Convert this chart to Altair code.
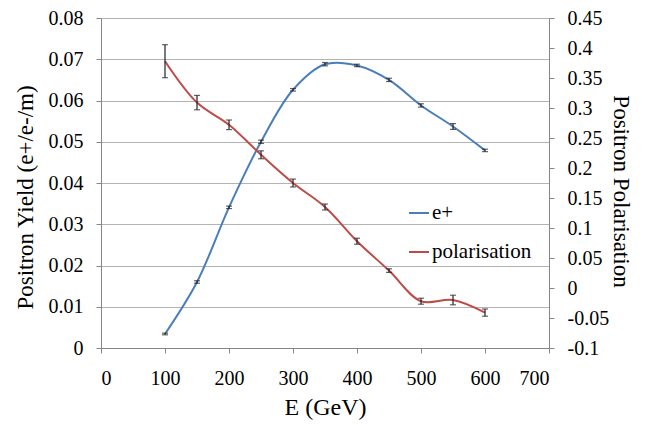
import altair as alt
import pandas as pd

# ---- data ----
energy = [100, 150, 200, 250, 300, 350, 400, 450, 500, 550, 600]
yield_e = [0.0034, 0.0160, 0.0341, 0.0500, 0.0626, 0.0688, 0.0685, 0.0650, 0.0588, 0.0537, 0.0479]
yield_err = [0.0002, 0.0003, 0.0003, 0.0004, 0.0003, 0.0004, 0.0003, 0.0004, 0.0004, 0.0007, 0.0003]
pol = [0.378, 0.309, 0.272, 0.222, 0.175, 0.135, 0.078, 0.029, -0.022, -0.020, -0.041]
pol_err = [0.0275, 0.012, 0.008, 0.0066, 0.0066, 0.005, 0.005, 0.003, 0.005, 0.008, 0.006]

series_names = ["e+", "polarisation"]
series_colors = ["#4a7ebb", "#be4b48"]
x_ticks = [0, 100, 200, 300, 400, 500, 600, 700]
left_ticks = [0, 0.01, 0.02, 0.03, 0.04, 0.05, 0.06, 0.07, 0.08]
right_ticks = [-0.1, -0.05, 0, 0.05, 0.1, 0.15, 0.2, 0.25, 0.3, 0.35, 0.4, 0.45]

df_e = pd.DataFrame({
    "E": energy,
    "v": yield_e,
    "lo": [v - e for v, e in zip(yield_e, yield_err)],
    "hi": [v + e for v, e in zip(yield_e, yield_err)],
    "series": series_names[0],
})
df_p = pd.DataFrame({
    "E": energy,
    "v": pol,
    "lo": [v - e for v, e in zip(pol, pol_err)],
    "hi": [v + e for v, e in zip(pol, pol_err)],
    "series": series_names[1],
})

FONT = "Liberation Serif"
AX = "#868686"
LEFT_TITLE = "Positron Yield (e+/e-/m)"
RIGHT_TITLE = "Positron Polarisation"
ERR = "#222222"

common_axis = dict(labelFont=FONT, titleFont=FONT, labelFontSize=20, titleFontSize=23,
                   titleFontWeight="normal", labelColor="black", titleColor="black",
                   domainColor=AX, tickColor=AX, tickSize=5, labelOverlap=False)

x_axis = alt.Axis(values=x_ticks, title="E (GeV)", grid=False,
                  labelPadding=15, titlePadding=7, **{**common_axis, "titleFontSize": 24})
x_scale = alt.Scale(domain=[0, 700], nice=False)

PLOT_H = 330
left_axis = alt.Axis(values=left_ticks, title=LEFT_TITLE,
                     grid=True, gridColor="#b3b3b3", labelExpr="'' + datum.value",
                     labelPadding=13, titlePadding=11, titleY=PLOT_H / 2 + 14,
                     orient="left", **common_axis)
right_axis = alt.Axis(values=right_ticks, title=RIGHT_TITLE,
                      grid=False, labelExpr="'' + datum.value",
                      labelPadding=13, titlePadding=0, titleY=PLOT_H / 2 + 8,
                      orient="right", **common_axis)
left_scale = alt.Scale(domain=[0, 0.08], nice=False, zero=False)
right_scale = alt.Scale(domain=[-0.1, 0.45], nice=False, zero=False)

color_enc = alt.Color(
    "series:N",
    scale=alt.Scale(domain=series_names, range=series_colors),
    legend=alt.Legend(orient="none", legendX=307, legendY=184, title=None,
                      symbolType="stroke", symbolSize=400, symbolStrokeWidth=2,
                      labelFont=FONT, labelFontSize=21, labelColor="black",
                      rowPadding=18, labelOffset=2),
)


def series_layer(df, scale, axis):
    x = alt.X("E:Q", scale=x_scale, axis=x_axis)
    line = alt.Chart(df).mark_line(interpolate="catmull-rom", strokeWidth=2).encode(
        x=x, y=alt.Y("v:Q", scale=scale, axis=axis), color=color_enc)
    bar = alt.Chart(df).mark_rule(color=ERR, strokeWidth=1.2).encode(
        x=x, y=alt.Y("lo:Q", scale=scale, axis=axis), y2="hi:Q")
    cap_lo = alt.Chart(df).mark_tick(color=ERR, size=6, thickness=1.2,
                                     orient="horizontal").encode(
        x=x, y=alt.Y("lo:Q", scale=scale, axis=axis))
    cap_hi = alt.Chart(df).mark_tick(color=ERR, size=6, thickness=1.2,
                                     orient="horizontal").encode(
        x=x, y=alt.Y("hi:Q", scale=scale, axis=axis))
    return alt.layer(line, bar, cap_lo, cap_hi)


left = series_layer(df_e, left_scale, left_axis)
right = series_layer(df_p, right_scale, right_axis)

chart = alt.layer(left, right).resolve_scale(y="independent").properties(
    width=448, height=PLOT_H,
    autosize=alt.AutoSizeParams(type="none"),
    padding={"left": 93, "top": 10, "right": 91, "bottom": 76},
).configure_view(stroke=None).configure_axis(**common_axis)

chart.save("out.html", embed_options={"renderer": "svg", "actions": False})
